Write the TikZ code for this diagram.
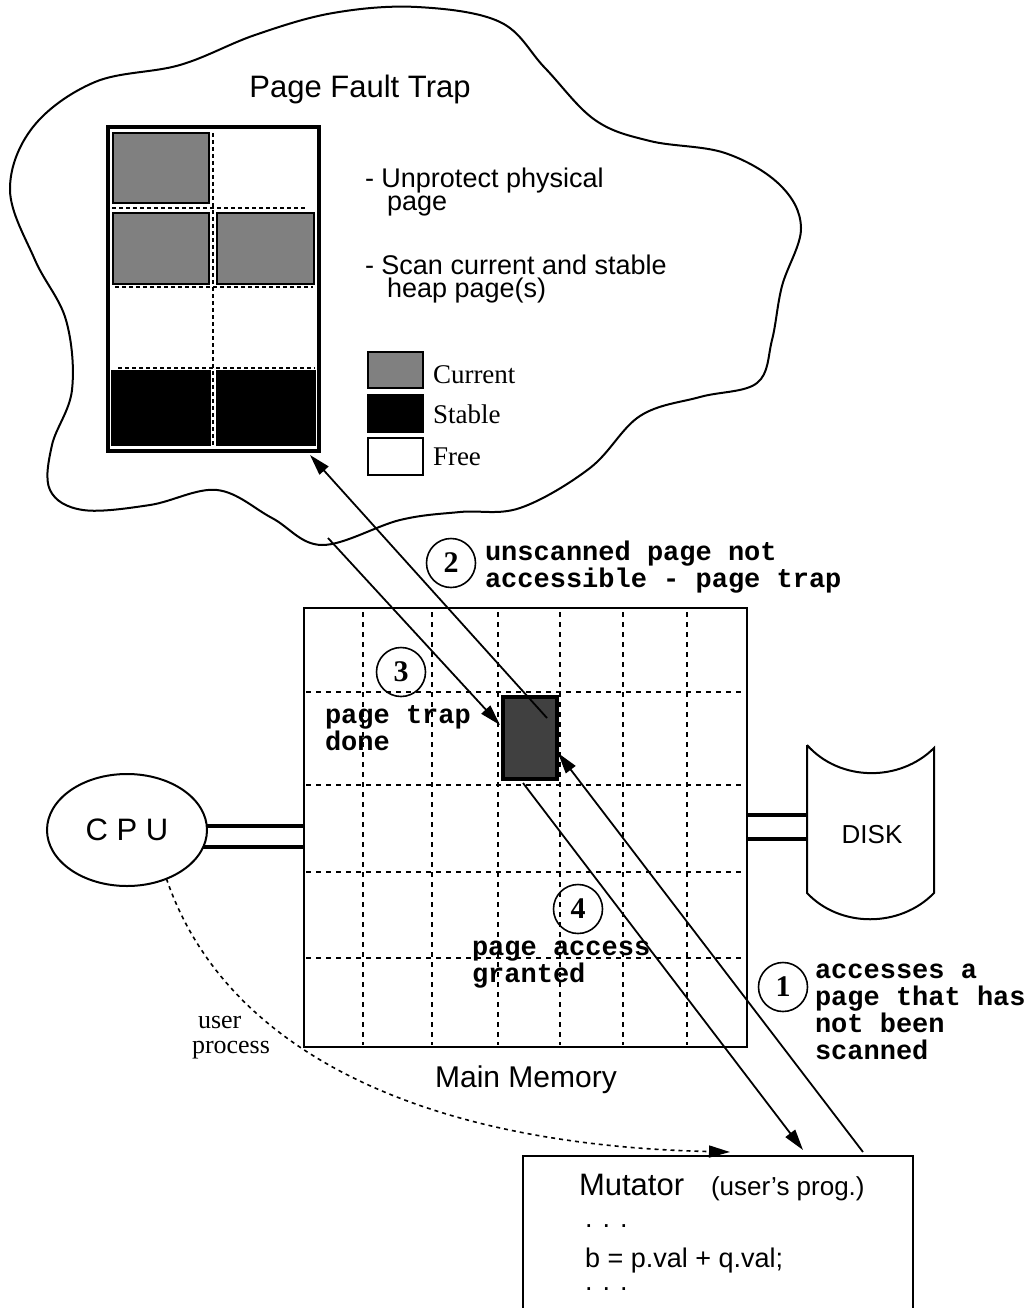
\documentclass[tikz,border=0pt]{standalone}
\usepackage{fontspec}
\setmainfont{Liberation Sans}
\newfontfamily\tmfont{Liberation Serif}
\newfontfamily\crfont{Liberation Mono}
\usetikzlibrary{arrows.meta,shapes.geometric,calc}
\definecolor{curgray}{HTML}{808080}
\definecolor{pgdark}{HTML}{404040}
\newcommand\lines[1]{\vtop{\halign{##\hfil\cr#1\crcr}}}
\newcommand\numfont{\tmfont\bfseries\fontsize{30}{30}\selectfont}
\newcommand\monofont{\crfont\bfseries\fontsize{27}{27}\selectfont}
\begin{document}
\begin{tikzpicture}[x=1pt,y=-1pt,
  every node/.style={inner sep=0pt, outer sep=0pt},
  cloudln/.style={line width=2pt},
  boxln/.style={draw, line width=2pt},
  grd/.style={line width=1.6pt, dash pattern=on 5pt off 5pt},
  tgrd/.style={line width=2pt, dash pattern=on 4pt off 3pt},
  cur/.style={draw, line width=2.5pt, fill=curgray},
  stb/.style={draw, line width=2.5pt, fill=black},
  fre/.style={draw, line width=2.5pt, fill=white},
  bus/.style={line width=4pt},
  arr/.style={line width=1.8pt, -{Triangle[length=21pt,width=12pt]}},
  num/.style={circle, draw, line width=1.6pt, minimum size=49pt, font=\numfont},
  mono/.style={anchor=base west, font=\monofont},
  sans/.style={anchor=base west, font=\fontsize{27}{23}\selectfont},
  serif/.style={anchor=base west, font=\tmfont\fontsize{27}{25}\selectfont}
]
\useasboundingbox (0,0) rectangle (1034,1308);
\fill[white] (0,0) rectangle (1034,1308);

% cloud
\draw[cloudln] plot[smooth cycle, tension=0.6] coordinates {
 (417,7) (500,22) (545,68) (595,120) (650,141) (725,153) (780,185)
 (801,228) (782,286) (772,340) (757,383) (700,397) (640,416)
 (590,468) (520,508) (460,512) (400,520) (322,545) (272,518) (217,490) (150,505)
 (83,510) (50,490) (52,445) (72,390) (66,320) (35,260) (10,190) (33,127)
 (95,82) (180,65) (255,35) (333,13)};

\node[anchor=base, font=\fontsize{31}{31}\selectfont] (title) at (360,98) {Page Fault Trap};

% page trap box
\node[draw, line width=4pt, minimum width=211pt, minimum height=324pt, anchor=north west] (trap) at (108,127) {};
\draw[cur] (113,133) rectangle (209,203);
\draw[cur] (113,213) rectangle (209,284);
\draw[cur] (217,213) rectangle (314,284);
\draw[stb] (112,371) rectangle (210,445);
\draw[stb] (217,371) rectangle (315,445);
\draw[tgrd] (213,133) -- (213,445);
\draw[tgrd] (112,208) -- (305,208);
\draw[tgrd] (115,287) -- (313,287);
\draw[tgrd] (118,368) -- (315,368);

\node[sans] (t1) at (365,187) {\lines{- Unprotect physical\cr\hspace*{22pt}page}};
\node[sans] (t2) at (365,274) {\lines{- Scan current and stable\cr\hspace*{22pt}heap page(s)}};

% legend
\draw[cur] (368,352) rectangle (423,388);
\draw[stb] (368,395) rectangle (423,432);
\draw[fre] (368,438) rectangle (423,475);
\node[serif] (lc) at (433,383) {Current};
\node[serif] (ls) at (433,423) {Stable};
\node[serif] (lf) at (433,465) {Free};

% main memory
\node[boxln, anchor=north west, minimum width=443pt, minimum height=439pt] (mem) at (304,608) {};
\foreach \x in {363,432,498,560,623,687} \draw[grd] (\x,612) -- (\x,1045);
\foreach \y in {692,785,872,958} \draw[grd] (306,\y) -- (747,\y);
\node[anchor=base, font=\fontsize{30}{30}\selectfont] (mmlab) at (526,1087) {Main Memory};

\node[draw, line width=3.5pt, fill=pgdark, minimum width=54pt, minimum height=82pt, anchor=north west] (pg) at (503,697) {};

% CPU
\node[ellipse, draw, line width=2pt, minimum width=160pt, minimum height=112pt, font=\fontsize{31}{31}\selectfont] (cpu) at (127,830) {C P U};
\draw[bus] ($(cpu.east)+(0,-4)$) coordinate (b1) -- (b1 -| mem.west);
\draw[bus] ($(cpu.east)+(-4,17)$) coordinate (b2) -- (b2 -| mem.west);

% disk
\draw[line width=2pt] (807,745) -- (807,893) .. controls (840,928) and (900,928) .. (934,893)
  -- (934,748) .. controls (900,782) and (840,782) .. (807,745);
\node[font=\fontsize{26}{26}\selectfont] (disk) at (872,835) {DISK};
\coordinate (dkw) at (807,827);
\draw[bus] ([yshift=12pt]dkw) -- ([yshift=12pt]dkw -| mem.east);
\draw[bus] ([yshift=-12pt]dkw) -- ([yshift=-12pt]dkw -| mem.east);

% mutator
\node[boxln, anchor=north west, minimum width=390pt, minimum height=170pt] (mut) at (523,1156) {};
\node[anchor=base west, font=\fontsize{31}{31}\selectfont] (mt1) at (579,1195) {Mutator};
\node[anchor=base west, font=\fontsize{26}{26}\selectfont] (mt2) at (711,1195) {(user’s prog.)};
\node[anchor=base west, font=\fontsize{27}{27}\selectfont] (mt3) at (585,1227) {. . .};
\node[anchor=base west, font=\fontsize{27}{27}\selectfont] (mt4) at (585,1267) {b = p.val + q.val;};
\node[anchor=base west, font=\fontsize{27}{27}\selectfont] (mt5) at (585,1290) {. . .};

% user process
\draw[line width=1.6pt, dash pattern=on 4pt off 4pt, -{Triangle[length=21pt,width=12pt]}]
  (cpu.-51) .. controls (225,1050) and (420,1145) .. ($(mut.north west)+(207,-4)$);
\node[serif, font=\tmfont\fontsize{26}{25}\selectfont] (up) at (192,1028) {\lines{\hspace*{6pt}user\cr process}};

% numbered steps
\node[num] (n2) at (451,563) {2};
\node[num] (n3) at (401,672) {3};
\node[num] (n4) at (578,909) {4};
\node[num] (n1) at (783,987) {1};
\node[mono] (l2) at (485,560) {\lines{unscanned page not\cr accessible - page trap}};
\node[mono] (l3) at (325,723) {\lines{page trap\cr done}};
\node[mono] (l4) at (472,955) {\lines{page access\cr granted}};
\node[mono] (l1) at (815,978) {\lines{accesses a\cr page that has\cr not been\cr scanned}};

% arrows
\coordinate (c3) at (328,538);
\draw[arr] ($(pg.north east)+(-10,21)$) -- ($(trap.south east)+(-9,4)$);
\draw[arr] (c3) -- ($(pg.north west)+(-3,28)$);
\draw[arr] ($(mut.north west)+(340,-4)$) -- ($(pg.east)+(1,15)$);
\draw[arr] ($(pg.south)+(-7,4)$) -- ($(mut.north west)+(280,-6)$);
\end{tikzpicture}
\end{document}
